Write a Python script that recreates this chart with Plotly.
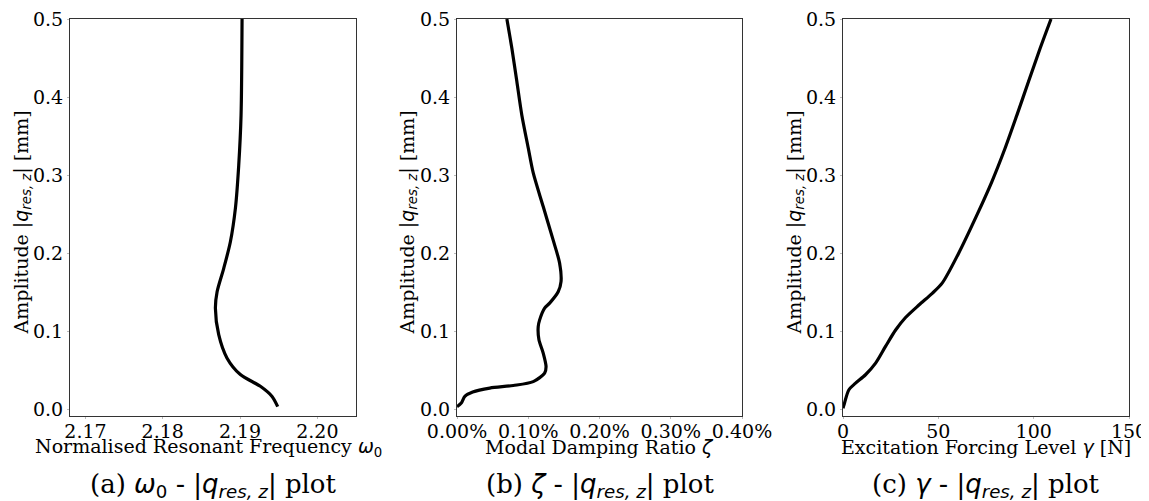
import plotly.graph_objects as go

# Panel (a): normalised resonant frequency vs amplitude
omega0 = [2.19487, 2.19414, 2.19263, 2.19004, 2.18832, 2.18724, 2.18681, 2.18703,
          2.18789, 2.18875, 2.18940, 2.18983, 2.19013, 2.19026]
amp_a = [0.004, 0.017, 0.030, 0.045, 0.066, 0.096, 0.130, 0.151,
         0.181, 0.215, 0.258, 0.313, 0.377, 0.5]

# Panel (b): modal damping ratio vs amplitude
zeta = [0.0, 0.00006, 0.00011, 0.00022, 0.00046, 0.00079, 0.00107, 0.00123, 0.00125,
        0.00121, 0.00115, 0.00114, 0.00116, 0.00123, 0.00130, 0.00142, 0.00146, 0.00144,
        0.00135, 0.00121, 0.00107, 0.00100, 0.00091, 0.00084, 0.00077, 0.00070]
amp_b = [0.004, 0.0085, 0.017, 0.0226, 0.0277, 0.031, 0.036, 0.047, 0.055,
         0.0725, 0.0895, 0.1065, 0.115, 0.130, 0.1364, 0.151, 0.164, 0.1876,
         0.217, 0.260, 0.303, 0.335, 0.377, 0.420, 0.4625, 0.5]

# Panel (c): excitation forcing level vs amplitude
gamma = [0.0, 0.5, 3.1, 6.6, 11.8, 17.1, 22.3, 27.6, 32.8, 39.8, 46.8, 52.0, 60.6,
         70.2, 78.1, 85.0, 91.2, 97.3, 103.4, 109.1]
amp_c = [0.002, 0.006, 0.0256, 0.034, 0.0448, 0.0597, 0.081, 0.102, 0.118, 0.134,
         0.149, 0.162, 0.200, 0.249, 0.292, 0.3346, 0.377, 0.420, 0.4625, 0.5]

W, H = 1141, 493
OFF = 8  # page body margin
SERIF = "DejaVu Serif"
MATH = "DejaVu Sans"

def px_x(p):
    return (p - OFF) / W

def px_y(p):
    return 1 - (p - OFF) / H

panels = [
    dict(x=omega0, y=amp_a, left=70, right=356, xrange=[2.168, 2.205], dtick=0.01,
         fmt=".2f", ytx=22,
         xtitle=f"Normalised Resonant Frequency <span style='font-family:{MATH}'><i>ω</i><sub>0</sub></span>",
         cap=f"(a) <span style='font-family:{MATH}'><i>ω</i><sub>0</sub> - |<i>q</i><sub><i>res, z</i></sub>|</span> plot"),
    dict(x=zeta, y=amp_b, left=457, right=742, xrange=[0, 0.004], dtick=0.001,
         fmt=".2%", ytx=408,
         xtitle=f"Modal Damping Ratio <span style='font-family:{MATH}'><i>ζ</i></span>",
         cap=f"(b) <span style='font-family:{MATH}'><i>ζ</i> - |<i>q</i><sub><i>res, z</i></sub>|</span> plot"),
    dict(x=gamma, y=amp_c, left=843, right=1129, xrange=[0, 150], dtick=50,
         fmt="d", ytx=795,
         xtitle=f"Excitation Forcing Level <span style='font-family:{MATH}'><i>γ</i></span> [N]",
         cap=f"(c) <span style='font-family:{MATH}'><i>γ</i> - |<i>q</i><sub><i>res, z</i></sub>|</span> plot"),
]

ytitle = (f"Amplitude <span style='font-family:{MATH}'>|<i>q</i><sub><i>res, z</i></sub>|</span> [mm]")

fig = go.Figure()
layout = dict(
    width=W, height=H,
    margin=dict(l=0, r=0, t=0, b=0, autoexpand=False),
    paper_bgcolor="white", plot_bgcolor="white",
    showlegend=False,
    font=dict(family=SERIF, size=19, color="black"),
    annotations=[],
)

top, bottom = 19, 416
for i, p in enumerate(panels, start=1):
    xa = "x" if i == 1 else f"x{i}"
    ya = "y" if i == 1 else f"y{i}"
    fig.add_trace(go.Scatter(x=p["x"], y=p["y"], mode="lines", xaxis=xa, yaxis=ya,
                             line=dict(color="black", width=3.2, shape="spline", smoothing=0.8)))
    axcommon = dict(showline=True, mirror=True, linecolor="#333", linewidth=1,
                    showgrid=False, zeroline=False, ticks="outside", ticklen=2,
                    tickcolor="#bbb", tickwidth=1, automargin=False,
                    ticklabeloverflow="allow",
                    tickfont=dict(family=SERIF, size=19, color="black"))
    layout[f"xaxis{'' if i == 1 else i}"] = dict(
        domain=[px_x(p["left"]), px_x(p["right"])], range=p["xrange"],
        dtick=p["dtick"], tick0=0 if i != 1 else 2.17, tickformat=p["fmt"],
        anchor=ya, ticklabelstandoff=-4, **axcommon)
    layout[f"yaxis{'' if i == 1 else i}"] = dict(
        domain=[px_y(bottom), px_y(top)], range=[-0.008, 0.50005], dtick=0.1, tick0=0,
        tickformat=".1f", anchor=xa, ticklabelstandoff=0, **axcommon)
    cx = (p["left"] + p["right"]) / 2
    layout["annotations"].append(dict(
        x=px_x(cx - 5 if i == 1 else cx), y=px_y(447), xref="paper", yref="paper", text=p["xtitle"],
        showarrow=False, font=dict(family=SERIF, size=19), xanchor="center", yanchor="middle"))
    layout["annotations"].append(dict(
        x=px_x(p["ytx"]), y=px_y((top + bottom) / 2 + 5), xref="paper", yref="paper",
        text=ytitle, textangle=-90, showarrow=False,
        font=dict(family=SERIF, size=19), xanchor="center", yanchor="middle"))
    layout["annotations"].append(dict(
        x=px_x(cx), y=px_y(485), xref="paper", yref="paper", text=p["cap"],
        showarrow=False, font=dict(family=SERIF, size=26), xanchor="center", yanchor="middle"))

fig.update_layout(**layout)
fig.write_html("out.html")
